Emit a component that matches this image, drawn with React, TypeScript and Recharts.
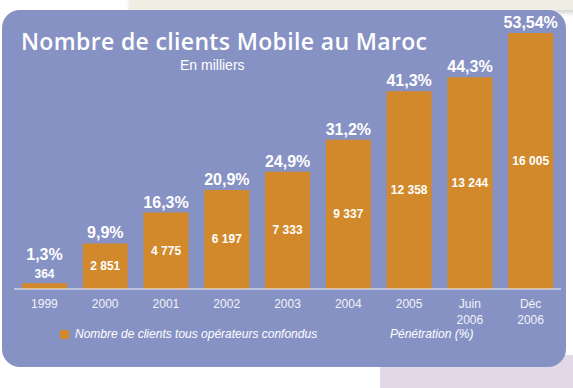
import React from "react";
import { BarChart, Bar, XAxis, YAxis, LabelList } from "recharts";

const periods = ["1999", "2000", "2001", "2002", "2003", "2004", "2005", "Juin\n2006", "Déc\n2006"];
const clients = [364, 2851, 4775, 6197, 7333, 9337, 12358, 13244, 16005];
const penetration = [1.3, 9.9, 16.3, 20.9, 24.9, 31.2, 41.3, 44.3, 53.54];

const data = periods.map((p, i) => ({
  period: p,
  clients: clients[i],
  penetration: penetration[i],
}));

const ORANGE = "#d2892b";
const PANEL = "#8792c4";
const ARIAL = "'Liberation Sans', Arial, sans-serif";

const fmtClients = (v: number) => String(v).replace(/\B(?=(\d{3})+(?!\d))/g, " ");
const fmtPct = (v: number) => String(v).replace(".", ",") + "%";

const XTick = ({ x, y, payload }: any) => {
  const lines = String(payload.value).split("\n");
  return (
    <text x={x} y={y} textAnchor="middle" fill="#f2f2f8" fontSize={12} fontFamily={ARIAL}>
      {lines.map((l, i) => (
        <tspan key={i} x={x} dy={i === 0 ? 19 : 16}>
          {l}
        </tspan>
      ))}
    </text>
  );
};

const ValueLabel = (props: any) => {
  const { x, y, width, height, value } = props;
  const small = height < 20;
  const cy = small ? y - 5 : y + height / 2 + 4;
  return (
    <text x={x + width / 2} y={cy} textAnchor="middle" fill="#fff" fontSize={12} fontWeight="bold" fontFamily={ARIAL}>
      {fmtClients(value)}
    </text>
  );
};

const PctLabel = (props: any) => {
  const { x, y, width, height, value } = props;
  const small = height < 20;
  const cy = small ? y - 23 : y - 5;
  return (
    <text x={x + width / 2} y={cy} textAnchor="middle" fill="#fff" fontSize={16} fontWeight="bold" fontFamily={ARIAL}>
      {fmtPct(value)}
    </text>
  );
};

export default function App() {
  return (
    <div style={{ position: "fixed", left: 0, top: 0, width: 573, height: 388, background: "#fff", overflow: "hidden" }}>
      <div style={{ position: "absolute", left: 130, top: -4, width: 450, height: 14, background: "#eeefe2", boxShadow: "0 3px 5px rgba(0,0,0,0.18)" }} />
      <div style={{ position: "absolute", left: 380, top: 355, width: 200, height: 40, background: "#e2d9e8" }} />
      <div style={{ position: "absolute", left: 2, top: 10, width: 564, height: 357, background: PANEL, borderRadius: 18 }} />
      <div
        style={{
          position: "absolute",
          left: 21,
          top: 25,
          color: "#fff",
          fontFamily: "'Open Sans', sans-serif",
          fontWeight: 600,
          fontSize: 23,
          letterSpacing: 0.35,
          whiteSpace: "nowrap",
        }}
      >
        Nombre de clients Mobile au Maroc
      </div>
      <div style={{ position: "absolute", left: 180, top: 57, color: "#fff", fontFamily: ARIAL, fontSize: 14 }}>
        En milliers
      </div>
      <div style={{ position: "absolute", left: 0, top: 0 }}>
        <BarChart width={573} height={388} data={data} margin={{ top: 33, right: 12, bottom: 69, left: 14 }}>
          <XAxis
            dataKey="period"
            height={30}
            axisLine={{ stroke: "#f4f4fa", strokeWidth: 1 }}
            tickLine={false}
            tickSize={0}
            tickMargin={0}
            interval={0}
            tick={<XTick />}
          />
          <YAxis hide domain={[0, "dataMax"]} />
          <Bar dataKey="clients" fill={ORANGE} barSize={45} isAnimationActive={false}>
            <LabelList dataKey="clients" content={<ValueLabel />} />
            <LabelList dataKey="penetration" content={<PctLabel />} />
          </Bar>
        </BarChart>
      </div>
      <div style={{ position: "absolute", left: 60, top: 330, width: 9, height: 9, background: ORANGE }} />
      <div style={{ position: "absolute", left: 75, top: 327, color: "#fff", fontFamily: ARIAL, fontSize: 12, fontStyle: "italic", whiteSpace: "nowrap" }}>
        Nombre de clients tous opérateurs confondus
      </div>
      <div style={{ position: "absolute", left: 390, top: 327, color: "#fff", fontFamily: ARIAL, fontSize: 12, fontStyle: "italic", whiteSpace: "nowrap" }}>
        Pénétration (%)
      </div>
    </div>
  );
}
